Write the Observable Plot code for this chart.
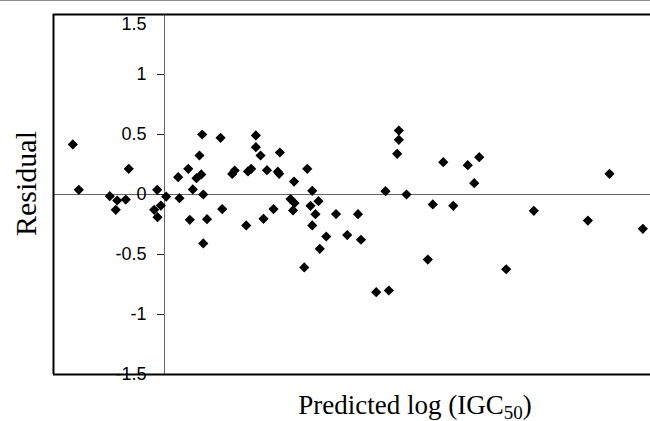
<!DOCTYPE html>
<html>
<head>
<meta charset="utf-8">
<script src="https://cdn.jsdelivr.net/npm/d3@7"></script>
<script src="https://cdn.jsdelivr.net/npm/@observablehq/plot@0.6"></script>
<style>
  html, body { margin: 0; padding: 0; background: #fff; overflow: hidden; }
  #wrap { position: relative; width: 650px; height: 421px; }
  #topline { position: absolute; left: 0; top: 0; width: 650px; height: 1px; background: #8c8c8c; }
</style>
</head>
<body>
<div id="wrap"><div id="topline"></div><div id="chart"></div></div>
<script>
// Predicted log(IGC50) values (x) and residuals (y)
const predicted = [
  -0.826, -0.772, -0.493, -0.426, -0.439, -0.349, -0.322, -0.066, -0.093, -0.033,
  -0.063, 0.015, 0.135, 0.123, 0.214, 0.315, 0.340, 0.255, 0.288, 0.331,
  0.228, 0.349, 0.349, 0.383, 0.505, 0.520, 0.610, 0.632, 0.736, 0.752,
  0.781, 0.823, 0.823, 0.865, 0.892, 0.923, 0.982, 1.021, 1.033, 1.039,
  1.135, 1.171, 1.158, 1.167, 1.259, 1.286, 1.315, 1.331, 1.331, 1.360,
  1.387, 1.399, 1.457, 1.545, 1.646, 1.743, 1.770, 1.907, 2.021, 1.991,
  2.111, 2.111, 2.096, 2.180, 2.417, 2.372, 2.511, 2.601, 2.732, 2.835,
  2.790, 3.078, 3.327, 3.814, 4.009, 4.309
];
const residual = [
  0.417, 0.039, -0.014, -0.050, -0.128, -0.042, 0.214, 0.039, -0.128, -0.092,
  -0.189, -0.017, -0.031, 0.144, 0.214, 0.325, 0.500, 0.042, 0.136, 0.167,
  -0.211, 0.000, -0.408, -0.206, 0.472, -0.121, 0.171, 0.200, -0.258, 0.192,
  0.214, 0.492, 0.394, 0.325, -0.203, 0.203, -0.121, 0.190, 0.172, 0.350,
  -0.038, -0.071, -0.133, 0.108, -0.608, 0.214, -0.094, 0.031, -0.258, -0.164,
  -0.056, -0.453, -0.350, -0.163, -0.338, -0.164, -0.377, -0.814, -0.800, 0.028,
  0.533, 0.456, 0.339, 0.000, -0.083, -0.542, 0.269, -0.094, 0.244, 0.311,
  0.094, -0.623, -0.136, -0.217, 0.172, -0.286
];
const yTicks = [1.5, 1, 0.5, 0, -0.5, -1, -1.5];
const yTickLabels = ["1.5", "1", "0.5", "0", "-0.5", "-1", "-1.5"];
const xDomain = [-1, 4.378];
const yDomain = [-1.5, 1.5];
const yTitle = "Residual";
const xTitleMain = "Predicted log (IGC";
const xTitleSub = "50";
const xTitleEnd = ")";

const points = predicted.map((x, i) => ({x, y: residual[i]}));
const tickRows = yTicks.map((v, i) => ({v, label: yTickLabels[i]}));
const topTick = tickRows.filter(d => d.v === yDomain[1]);
const otherTicks = tickRows.filter(d => d.v !== yDomain[1]);
const xTitleFull = xTitleMain + xTitleSub + xTitleEnd;

const chart = Plot.plot({
  width: 650,
  height: 421,
  marginLeft: 53,
  marginRight: 0,
  marginTop: 14,
  marginBottom: 47,
  x: {domain: xDomain, axis: null},
  y: {domain: yDomain, axis: null},
  style: {background: "#fff", overflow: "visible"},
  marks: [
    // zero line and y axis line
    Plot.ruleY([0], {stroke: "#666", strokeWidth: 1}),
    Plot.ruleX([0], {stroke: "#666", strokeWidth: 1}),
    // tick marks to the left of the axis
    Plot.ruleY(yTicks, {x1: 0, x2: 0, insetLeft: -7, stroke: "#222", strokeWidth: 1}),
    // tick labels
    Plot.text(otherTicks, {x: 0, y: "v", text: "label", dx: -18, textAnchor: "end",
      fontFamily: "Liberation Sans, Arial, sans-serif", fontSize: 18, fill: "#000"}),
    Plot.text(topTick, {x: 0, y: "v", text: "label", dx: -18, dy: 10, textAnchor: "end",
      fontFamily: "Liberation Sans, Arial, sans-serif", fontSize: 18, fill: "#000"}),
    // frame: left, top, bottom
    Plot.ruleX([xDomain[0]], {stroke: "#000", strokeWidth: 2}),
    Plot.ruleY(yDomain, {stroke: "#000", strokeWidth: 2}),
    // data points
    Plot.dot(points, {x: "x", y: "y", symbol: "diamond2", r: 4.6, fill: "#000", stroke: "none"}),
    // axis titles
    Plot.text([xTitleFull], {frameAnchor: "bottom", dx: 63, dy: 39, lineAnchor: "bottom",
      textAnchor: "middle", fontFamily: "Liberation Serif, Times New Roman, serif", fontSize: 27, fill: "#000"}),
    Plot.text([yTitle], {frameAnchor: "left", dx: -18, dy: -11, rotate: -90, lineAnchor: "bottom",
      textAnchor: "middle", fontFamily: "Liberation Serif, Times New Roman, serif", fontSize: 30, fill: "#000"})
  ]
});

// subscript in the x title
d3.select(chart).selectAll("text").filter(function() { return this.textContent === xTitleFull; })
  .each(function() {
    const t = d3.select(this);
    t.text(null);
    t.append("tspan").text(xTitleMain);
    t.append("tspan").attr("font-size", 19).attr("dy", 5).text(xTitleSub);
    t.append("tspan").attr("dy", -5).text(xTitleEnd);
  });

document.getElementById("chart").appendChild(chart);
</script>
</body>
</html>
